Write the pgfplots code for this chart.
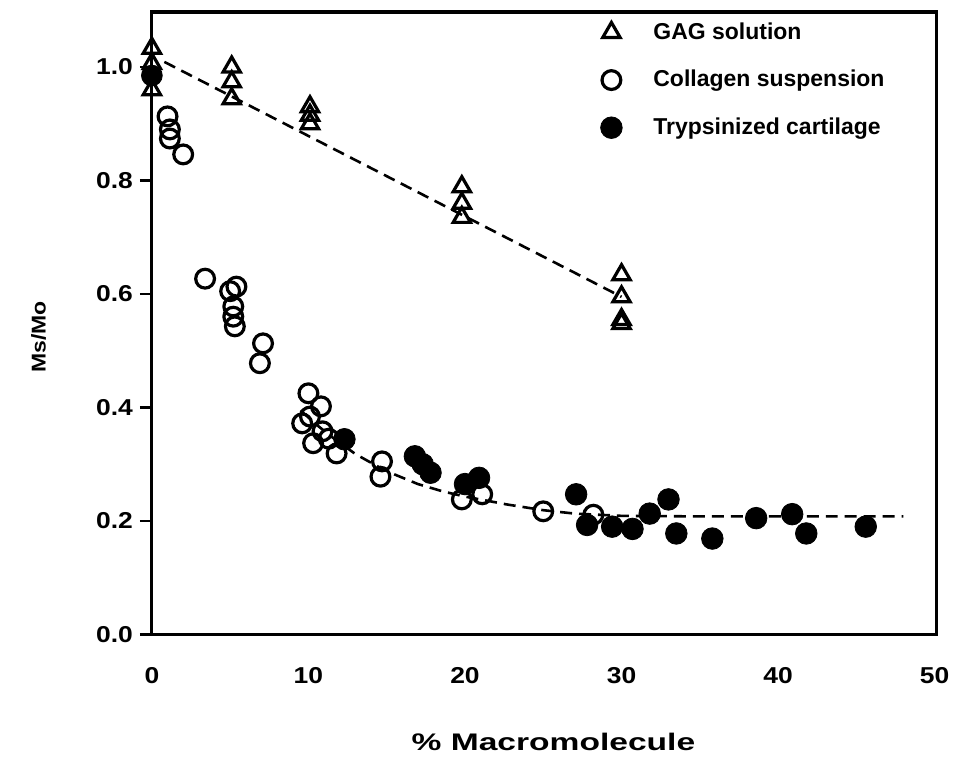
\documentclass[border=0pt]{standalone}
\usepackage{fontspec}
\setmainfont{Liberation Sans}
\newfontfamily\widefont[FakeStretch=1.15]{Liberation Sans}
\newfontfamily\xlabfont[FakeStretch=1.4]{Liberation Sans}
\usepackage{pgfplots}
\pgfplotsset{compat=1.18}
\begin{document}
\begin{tikzpicture}
\begin{axis}[
  scale only axis, width=392.5pt, height=311.5pt,
  at={(0,0)}, anchor=south west,
  xmin=0, xmax=50.1, ymin=0, ymax=1.097,
  clip=false,
  xtick={0,10,20,30,40,50},
  ytick={0,0.2,0.4,0.6,0.8,1.0},
  ytick pos=left,
  /pgf/number format/assume math mode=true,
  yticklabel style={/pgf/number format/fixed, /pgf/number format/fixed zerofill, /pgf/number format/precision=1},
  tick label style={font=\widefont\bfseries\fontsize{11.5}{13}\selectfont},
  tick align=outside, major tick length=6pt,
  ytick style={line width=1.4pt, black},
  xtick style={draw=none},
  xticklabel style={yshift=-7pt},
  axis line style={line width=1.6pt, black},
  xlabel={\xlabfont\bfseries\fontsize{12}{14}\selectfont\% Macromolecule},
  every axis x label/.style={at={(rel axis cs:0.512,0)}, anchor=center, yshift=-54pt},
  ylabel={\widefont\bfseries\fontsize{10}{12}\selectfont Ms/Mo},
  every axis y label/.style={at={(rel axis cs:0,0.478)}, xshift=-56.75pt, rotate=90, anchor=center},
  legend style={draw=none, fill=none, at={(axis cs:28.64,1.086)}, anchor=north west,
    font=\bfseries\fontsize{11.5}{13}\selectfont, row sep=10pt, inner sep=0pt},
  legend image code/.code={
    \path[draw=none, fill=none] (-5pt,0pt) -- (19pt,0pt);
    \draw[#1, /tikz/only marks] plot coordinates {(0pt,0pt)};},
  legend cell align=left,
]
% fitted dashed lines
\addplot[forget plot, black, line width=1.3pt, dash pattern=on 6pt off 3.5pt] coordinates {
  (0.8,1.009) (30,0.595)};
\addplot[forget plot, black, line width=1.3pt, dash pattern=on 6pt off 3.5pt] coordinates {
  (9.5,0.395) (10.5,0.370) (11.5,0.348) (13,0.318) (14.5,0.295) (15.5,0.282)
  (17,0.265) (18.6,0.252) (20,0.243) (22.7,0.229) (25,0.219) (27,0.213)
  (30,0.209) (35,0.208) (48,0.208)};
% partially hidden filled marker at x=0
\addplot[forget plot, only marks, mark=*, mark size=5.2pt, black] coordinates {(0,0.985)};
% GAG solution
\addplot[only marks, mark=triangle, mark size=5pt, mark options={line width=1.6pt, fill=white, draw=black}] coordinates {
  (0,1.033) (0,1.006) (0,0.960)
  (5.1,1.000) (5.1,0.974) (5.1,0.944)
  (10.1,0.930) (10.1,0.915) (10.1,0.900)
  (19.8,0.789) (19.8,0.760) (19.8,0.735)
  (30,0.634) (30,0.595) (30,0.555) (30,0.548)};
\addlegendentry{GAG solution}
% Collagen suspension
\addplot[only marks, mark=o, mark size=4.7pt, mark options={line width=1.6pt, fill=white, draw=black}] coordinates {
  (1.0,0.913) (1.15,0.890) (1.15,0.874) (2.0,0.846)
  (3.4,0.627)
  (5.0,0.605) (5.4,0.613) (5.2,0.578) (5.2,0.560) (5.3,0.543)
  (7.1,0.513) (6.9,0.478)
  (10.0,0.425) (10.8,0.402) (10.1,0.384) (9.6,0.372) (10.9,0.358) (10.3,0.337) (11.3,0.345) (11.8,0.319)
  (14.7,0.305) (14.6,0.278)
  (19.8,0.238) (21.1,0.247)
  (25.0,0.217)
  (28.2,0.211)};
\addlegendentry{Collagen suspension}
% Trypsinized cartilage
\addplot[only marks, mark=*, mark size=5.4pt, mark options={draw=black, fill=black}] coordinates {
  (12.3,0.344)
  (16.8,0.314) (17.3,0.300) (17.8,0.285)
  (20.0,0.265) (20.9,0.276)
  (27.1,0.247) (27.8,0.193) (29.4,0.190) (30.7,0.186)
  (31.8,0.213) (33.0,0.238) (33.5,0.178) (35.8,0.169)
  (38.6,0.205) (40.9,0.212) (41.8,0.178) (45.6,0.190)};
\addlegendentry{Trypsinized cartilage}
\end{axis}
\path[use as bounding box] (-76pt,-61pt) rectangle (401.5pt,316.5pt);
\end{tikzpicture}
\end{document}
